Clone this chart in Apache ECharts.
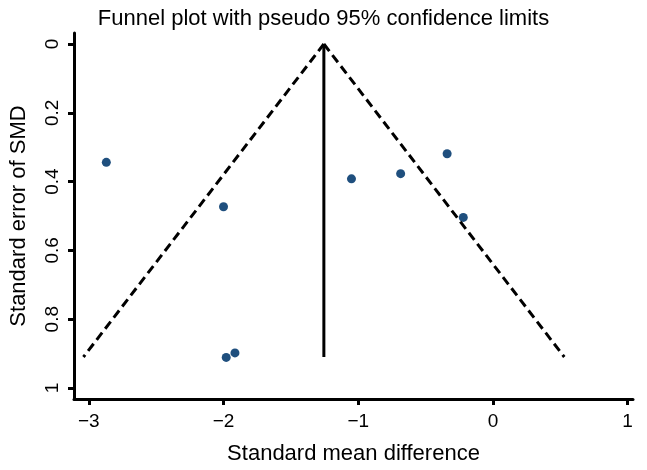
<!DOCTYPE html>
<html><head><meta charset="utf-8">
<script src="https://cdn.jsdelivr.net/npm/echarts@6/dist/echarts.min.js"></script>
<style>html,body{margin:0;padding:0;background:#fff}#c{width:647px;height:470px}</style>
</head><body><div id="c"></div>
<script>
// Study effect sizes (standardized mean difference) and their standard errors
const studySMD = [-2.87, -2.0, -1.05, -0.685, -0.34, -0.22, -1.98, -1.915];
const studySE  = [0.344, 0.473, 0.392, 0.377, 0.319, 0.504, 0.911, 0.898];
// Pooled estimate line and pseudo 95% limits (end points)
const pooledSMD = [-1.255, -1.255];
const lowerLimitSMD = [-1.255, -3.04];
const upperLimitSMD = [-1.255, 0.53];
const limitSE = [0, 0.91];
// Tick labels
const xTicks = [-3, -2, -1, 0, 1];
const yTicks = [0, 0.2, 0.4, 0.6, 0.8, 1];

const FONT = 'Liberation Sans, Arial, sans-serif';
const pts = studySMD.map((x, i) => [x, studySE[i]]);
const toPairs = (xs) => xs.map((x, i) => [x, limitSE[i]]);
const fmt = v => String(v).replace('-', '\u2212');

const chart = echarts.init(document.getElementById('c'), null, {renderer: 'canvas'});
chart.setOption({
  animation: false,
  backgroundColor: '#ffffff',
  title: {
    text: 'Funnel plot with pseudo 95% confidence limits',
    left: 'center', top: 3,
    textStyle: {fontFamily: FONT, fontSize: 22, fontWeight: 'normal', color: '#000'}
  },
  grid: {left: 70, right: 14, top: 33, bottom: 68, containLabel: false},
  xAxis: {
    type: 'value', min: -3.11, max: 1.04,
    name: 'Standard mean difference', nameLocation: 'middle', nameGap: 44,
    nameTextStyle: {fontFamily: FONT, fontSize: 22, color: '#000'},
    axisLine: {show: true, onZero: false, lineStyle: {color: '#000', width: 3}},
    axisTick: {show: true, length: 6, customValues: xTicks, lineStyle: {color: '#000', width: 3}},
    axisLabel: {customValues: xTicks, margin: 13, fontFamily: FONT, fontSize: 19, color: '#000', formatter: fmt},
    splitLine: {show: false}
  },
  yAxis: {
    type: 'value', inverse: true, min: -0.032, max: 1.032,
    name: 'Standard error of SMD', nameLocation: 'middle', nameGap: 44, nameRotate: 90,
    nameTextStyle: {fontFamily: FONT, fontSize: 22, color: '#000'},
    axisLine: {show: true, onZero: false, lineStyle: {color: '#000', width: 3}},
    axisTick: {show: true, length: 6, customValues: yTicks, lineStyle: {color: '#000', width: 3}},
    axisLabel: {customValues: yTicks, rotate: 90, margin: 12, fontFamily: FONT, fontSize: 19, color: '#000', formatter: fmt},
    splitLine: {show: false}
  },
  series: [
    {type: 'line', data: toPairs(lowerLimitSMD), symbol: 'none', silent: true,
     lineStyle: {color: '#000', width: 3, type: [9, 5]}},
    {type: 'line', data: toPairs(upperLimitSMD), symbol: 'none', silent: true,
     lineStyle: {color: '#000', width: 3, type: [9, 5]}},
    {type: 'line', data: toPairs(pooledSMD), symbol: 'none', silent: true,
     lineStyle: {color: '#000', width: 3}},
    {type: 'scatter', data: pts, symbol: 'circle', symbolSize: 9,
     itemStyle: {color: '#1f4f7e', opacity: 1}}
  ]
});
</script></body></html>
